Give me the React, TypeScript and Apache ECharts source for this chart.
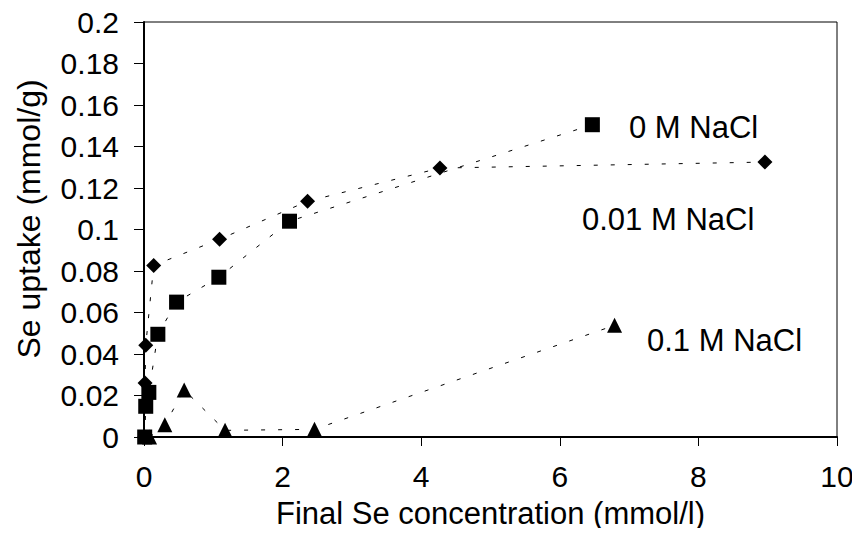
import React, { useEffect, useRef } from "react";
import * as echarts from "echarts";

// Final Se concentration (mmol/l) vs Se uptake (mmol/g)
const naCl0X = [0.01, 0.025, 0.07, 0.2, 0.47, 1.08, 2.1, 6.47];
const naCl0Y = [0, 0.0148, 0.0215, 0.0495, 0.065, 0.077, 0.104, 0.1505];

const naCl001X = [0.01, 0.015, 0.025, 0.14, 1.09, 2.36, 4.27, 8.96];
const naCl001Y = [0, 0.026, 0.0442, 0.0827, 0.0953, 0.1136, 0.1296, 0.1325];

const naCl01X = [0.08, 0.3, 0.58, 1.17, 2.46, 6.79];
const naCl01Y = [0, 0.0059, 0.0227, 0.0032, 0.0037, 0.0538];

const seriesLabels = ["0 M NaCl", "0.01 M NaCl", "0.1 M NaCl"];
const xTitle = "Final Se concentration (mmol/l)";
const yTitle = "Se uptake (mmol/g)";

const FONT = "'Liberation Sans', Arial, Helvetica, sans-serif";

const pairs = (xs: number[], ys: number[]) => xs.map((x, i) => [x, ys[i]]);

export default function App() {
  const ref = useRef<HTMLDivElement>(null);
  useEffect(() => {
    if (!ref.current) return;
    const chart = echarts.init(ref.current, undefined, { renderer: "svg" });
    const lineStyle = { color: "#000", width: 1, type: [4, 13] as any };
    const mk = (name: string, data: number[][], symbol: string, size: any) => ({
      name,
      type: "line",
      data,
      symbol,
      symbolSize: size,
      showAllSymbol: true,
      lineStyle,
      itemStyle: { color: "#000", borderWidth: 0 },
      emphasis: { disabled: true },
    });
    const label = (text: string, x: number, y: number) => ({
      type: "text",
      x,
      y,
      style: { text, fontFamily: FONT, fontSize: 31, fill: "#000", align: "left", verticalAlign: "middle" },
    });
    chart.setOption({
      animation: false,
      backgroundColor: "#fff",
      grid: {
        left: 144,
        right: 23,
        top: 22,
        bottom: 99,
        show: true,
        borderColor: "#000",
        borderWidth: 1,
        containLabel: false,
      },
      xAxis: {
        type: "value",
        min: 0,
        max: 10,
        interval: 2,
        name: xTitle,
        nameLocation: "middle",
        nameGap: 61,
        nameTextStyle: { fontFamily: FONT, fontSize: 31, color: "#000" },
        axisLine: { show: true, onZero: false, lineStyle: { color: "#000", width: 2 } },
        axisTick: { show: true, inside: false, length: 9, lineStyle: { color: "#000", width: 1 } },
        axisLabel: { fontFamily: FONT, fontSize: 30, color: "#000", margin: 24 },
        splitLine: { show: false },
      },
      yAxis: {
        type: "value",
        min: 0,
        max: 0.2,
        interval: 0.02,
        axisLine: { show: true, onZero: false, lineStyle: { color: "#000", width: 2 } },
        axisTick: { show: true, inside: false, length: 10, lineStyle: { color: "#000", width: 1 } },
        axisLabel: {
          fontFamily: FONT,
          fontSize: 30,
          color: "#000",
          margin: 25,
          formatter: (v: number) => String(+v.toFixed(2)),
        },
        splitLine: { show: false },
      },
      graphic: [
        {
          type: "text",
          x: 29,
          y: 219,
          rotation: Math.PI / 2,
          style: { text: yTitle, fontFamily: FONT, fontSize: 32, fill: "#000", align: "center", verticalAlign: "middle" },
        },
        label(seriesLabels[0], 629, 127),
        label(seriesLabels[1], 582, 219),
        label(seriesLabels[2], 647, 340),
      ],
      series: [
        mk(seriesLabels[1], pairs(naCl001X, naCl001Y), "diamond", 15),
        mk(seriesLabels[0], pairs(naCl0X, naCl0Y), "rect", 15),
        mk(seriesLabels[2], pairs(naCl01X, naCl01Y), "triangle", 15),
      ],
    });
    return () => chart.dispose();
  }, []);
  return <div ref={ref} style={{ width: 860, height: 536, margin: -8 }} />;
}
